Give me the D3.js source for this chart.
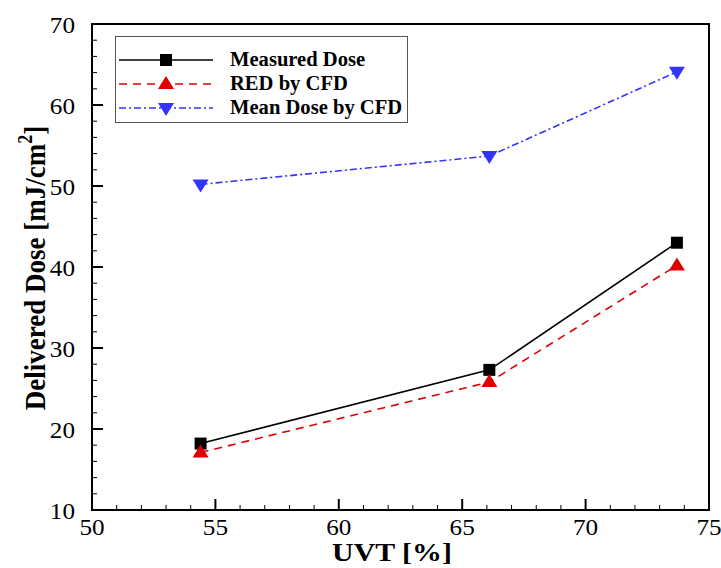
<!DOCTYPE html>
<html>
<head>
<meta charset="utf-8">
<script src="https://cdn.jsdelivr.net/npm/d3@7"></script>
<style>
  body { margin: 0; background: #fff; }
  text { font-family: 'Liberation Serif', 'Times New Roman', Times, serif; }
</style>
</head>
<body>
<svg class="chart" width="721" height="568"></svg>
<script>
const uvt = [54.4, 66.1, 73.7]
const measuredDose = [18.2, 27.3, 43.0]
const redByCfd = [17.1, 25.8, 40.2]
const meanDoseByCfd = [50.2, 53.7, 64.1]

const xTicks = [50, 55, 60, 65, 70, 75]
const yTicks = [10, 20, 30, 40, 50, 60, 70]

const series = [
  { name: 'Measured Dose', values: measuredDose, color: '#000000', dash: null, symbol: 'square' },
  { name: 'RED by CFD', values: redByCfd, color: '#e00000', dash: '8,6', symbol: 'up' },
  { name: 'Mean Dose by CFD', values: meanDoseByCfd, color: '#3333ff', dash: '7,3,2,3', symbol: 'down' }
]

const plotLeft = 92, plotRight = 709, plotTop = 24, plotBottom = 510

const xSc = d3.scaleLinear().domain([50, 75]).range([plotLeft, plotRight])
const ySc = d3.scaleLinear().domain([10, 70]).range([plotBottom, plotTop])

const chart = d3.select('.chart')

// frame
chart.append('rect')
  .attr('x', plotLeft).attr('y', plotTop)
  .attr('width', plotRight - plotLeft).attr('height', plotBottom - plotTop)
  .attr('fill', 'none').attr('stroke', '#000').attr('stroke-width', 2)

// minor + major ticks, drawn inward
const xMinor = d3.range(50, 75.01, 1)
const yMinor = d3.range(10, 70.01, 2)

chart.selectAll('.xtick')
  .data(xMinor)
  .enter()
  .append('line')
  .attr('x1', d => xSc(d)).attr('x2', d => xSc(d))
  .attr('y1', plotBottom)
  .attr('y2', d => plotBottom - (d % 5 === 0 ? 11 : 5))
  .attr('stroke', '#000')
  .attr('stroke-width', d => d % 5 === 0 ? 2 : 1)

chart.selectAll('.ytick')
  .data(yMinor)
  .enter()
  .append('line')
  .attr('y1', d => ySc(d)).attr('y2', d => ySc(d))
  .attr('x1', plotLeft)
  .attr('x2', d => plotLeft + (d % 10 === 0 ? 11 : 5))
  .attr('stroke', '#000')
  .attr('stroke-width', d => d % 10 === 0 ? 2 : 1)

// tick labels (the source is a bit wide, so stretch text horizontally)
chart.selectAll('.xlab')
  .data(xTicks)
  .enter()
  .append('text')
  .attr('transform', d => `translate(${xSc(d)},${plotBottom + 25}) scale(1.05,1)`)
  .attr('text-anchor', 'middle')
  .attr('font-size', 24)
  .text(d => d)

chart.selectAll('.ylab')
  .data(yTicks)
  .enter()
  .append('text')
  .attr('transform', d => `translate(${plotLeft - 17},${ySc(d) + 9}) scale(1.05,1)`)
  .attr('text-anchor', 'end')
  .attr('font-size', 24)
  .text(d => d)

// axis titles
chart.append('text')
  .attr('transform', 'translate(392,561) scale(1.15,1)')
  .attr('text-anchor', 'middle')
  .attr('font-size', 26).attr('font-weight', 'bold')
  .text('UVT [%]')

const yTitle = chart.append('text')
  .attr('transform', 'translate(45,268) rotate(-90) scale(1,1.12)')
  .attr('text-anchor', 'middle')
  .attr('font-size', 27).attr('font-weight', 'bold')
yTitle.append('tspan').text('Delivered Dose [mJ/cm')
yTitle.append('tspan').attr('dy', -12).attr('font-size', 18).text('2')
yTitle.append('tspan').attr('dy', 12).text(']')

// symbols
function drawSymbol(g, symbol, color, cx, cy) {
  if (symbol === 'square') {
    g.append('rect')
      .attr('x', cx - 6).attr('y', cy - 6)
      .attr('width', 12).attr('height', 12)
      .attr('fill', color)
  } else if (symbol === 'up') {
    g.append('path')
      .attr('d', `M ${cx} ${cy - 8} L ${cx + 8} ${cy + 5} L ${cx - 8} ${cy + 5} Z`)
      .attr('fill', color)
  } else {
    g.append('path')
      .attr('d', `M ${cx} ${cy + 8} L ${cx + 8} ${cy - 5} L ${cx - 8} ${cy - 5} Z`)
      .attr('fill', color)
  }
}

const line = d3.line()
  .x(d => xSc(d[0]))
  .y(d => ySc(d[1]))

series.forEach(s => {
  const pts = uvt.map((u, i) => [u, s.values[i]])
  chart.append('path')
    .attr('d', line(pts))
    .attr('fill', 'none')
    .attr('stroke', s.color)
    .attr('stroke-width', 1.6)
    .attr('stroke-dasharray', s.dash)
  const g = chart.append('g')
  pts.forEach(p => drawSymbol(g, s.symbol, s.color, xSc(p[0]), ySc(p[1])))
})

// legend
const legend = chart.append('g')
legend.append('rect')
  .attr('x', 115.5).attr('y', 36.5)
  .attr('width', 292).attr('height', 86)
  .attr('fill', '#fff').attr('stroke', '#555').attr('stroke-width', 1)

series.forEach((s, i) => {
  const yy = 60 + i * 24
  legend.append('line')
    .attr('x1', 119).attr('x2', 213)
    .attr('y1', yy).attr('y2', yy)
    .attr('stroke', s.color)
    .attr('stroke-width', 1.6)
    .attr('stroke-dasharray', s.dash)
  drawSymbol(legend, s.symbol, s.color, 166, yy)
  legend.append('text')
    .attr('transform', `translate(230,${yy + 6}) scale(1.03,1)`)
    .attr('font-size', 20).attr('font-weight', 'bold')
    .text(s.name)
})
</script>
</body>
</html>
